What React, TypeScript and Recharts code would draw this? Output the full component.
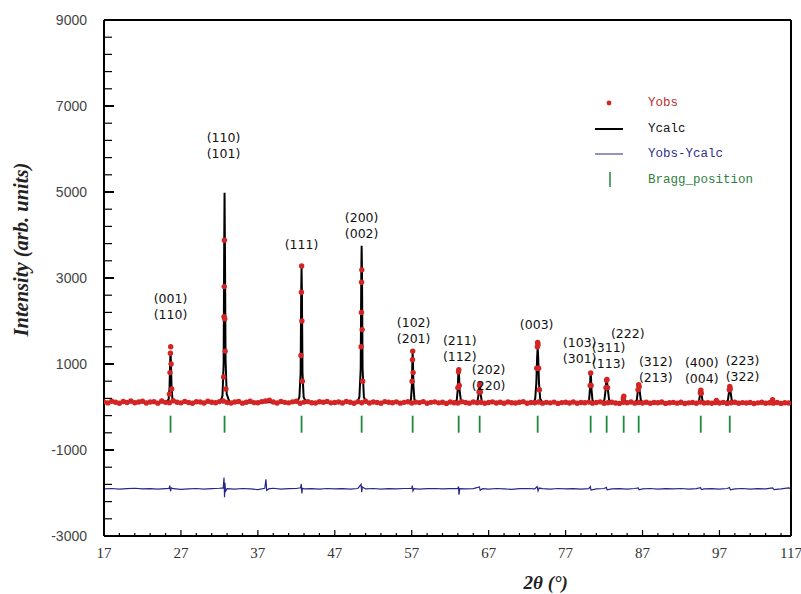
import React from 'react';
import { ComposedChart, Line, Scatter, XAxis, YAxis, Legend, Label } from 'recharts';

// observed background, one value every 0.5° from 17°
const obsBackground = [
  120, 95, 135, 110, 88, 128, 105, 140, 98, 118, 132, 92, 115, 125, 90, 138, 108, 100, 145, 112,
  96, 130, 104, 88, 122, 116, 92, 134, 110, 100, 126, 140, 105, 94, 118, 128, 90, 112, 136, 102,
  98, 124, 140, 160, 118, 92, 130, 108, 96, 120, 134, 88, 114, 126, 100, 92, 122, 110, 130, 96,
  104, 118, 92, 128, 110, 86, 124, 100, 132, 94, 116, 106, 88, 126, 112, 98, 120, 90, 108, 122,
  94, 114, 102, 126, 88, 108, 120, 96, 112, 84, 118, 100, 92, 124, 106, 90, 116, 98, 110, 86,
  104, 120, 92, 112, 86, 118, 100, 94, 110, 124, 88, 106, 98, 116, 90, 108, 96, 114, 84, 102,
  110, 92, 118, 86, 104, 98, 114, 90, 106, 120, 88, 100, 112, 94, 84, 108, 98, 116, 90, 104,
  92, 110, 86, 104, 98, 116, 84, 100, 108, 90, 112, 82, 96, 106, 88, 114, 92, 100, 86, 104,
  94, 108, 84, 98, 112, 88, 102, 92, 106, 82, 96, 110, 86, 100, 90, 104, 84, 98, 92,
];

// observed points on the peaks [2θ, intensity]
const obsPeaks: [number, number][] = [
  [25.5, 300], [25.58, 800], [25.63, 1250], [25.67, 1400], [25.72, 1000], [25.8, 420],
  [32.55, 700], [32.6, 2100], [32.63, 2800], [32.65, 3880], [32.7, 2050], [32.75, 1300], [32.85, 420],
  [42.6, 1200], [42.66, 2670], [42.69, 3280], [42.72, 2000], [42.78, 600],
  [50.42, 1400], [50.46, 2200], [50.48, 2900], [50.51, 3190], [50.56, 1800], [50.62, 600],
  [57.05, 600], [57.1, 1100], [57.13, 1300], [57.18, 800],
  [63.0, 450], [63.08, 820], [63.12, 870], [63.18, 500],
  [65.75, 350], [65.82, 500], [65.86, 540], [65.92, 350],
  [73.25, 900], [73.33, 1400], [73.37, 1500], [73.42, 1450], [73.5, 900], [73.6, 400],
  [80.2, 500], [80.26, 790], [80.32, 500],
  [82.25, 450], [82.32, 620], [82.38, 640], [82.45, 450],
  [84.5, 200], [84.57, 250],
  [86.42, 400], [86.5, 520], [86.56, 470],
  [94.52, 330], [94.58, 390], [94.64, 320],
  [96.6, 150],
  [98.28, 400], [98.34, 480], [98.4, 420],
  [103.9, 170],
];

// calculated profile [2θ, intensity]
const yCalc: [number, number][] = [
  [17, 118], [18, 116], [19, 114], [20, 113], [21, 112], [22, 112], [23, 111], [24, 111],
  [25.1, 112], [25.4, 180], [25.52, 450], [25.6, 1050], [25.65, 1300], [25.7, 1050], [25.78, 450], [25.9, 180], [26.2, 118],
  [27, 110], [28, 110], [29, 109], [30, 108], [31, 108],
  [32.1, 112], [32.4, 260], [32.55, 1000], [32.62, 3600], [32.67, 4980], [32.72, 3700], [32.8, 1100], [32.95, 300], [33.3, 120],
  [34, 108], [35, 107], [36, 107], [37, 106], [38, 112], [39, 108], [40, 106], [41, 105],
  [42.1, 108], [42.4, 230], [42.56, 800], [42.63, 2600], [42.68, 3250], [42.73, 2600], [42.8, 800], [42.95, 230], [43.3, 110],
  [44, 104], [45, 104], [46, 103], [47, 103], [48, 102], [49, 102],
  [49.9, 104], [50.2, 230], [50.37, 900], [50.44, 3000], [50.49, 3750], [50.54, 3000], [50.61, 900], [50.78, 230], [51.1, 104],
  [52, 101], [53, 101], [54, 100], [55, 100], [56, 100],
  [56.6, 102], [56.9, 170], [57.02, 500], [57.08, 1050], [57.12, 1280], [57.16, 1050], [57.22, 500], [57.35, 170], [57.7, 102],
  [58, 99], [59, 99], [60, 98], [61, 98], [62, 98],
  [62.6, 100], [62.85, 160], [62.98, 400], [63.05, 760], [63.1, 870], [63.15, 760], [63.22, 400], [63.38, 160], [63.7, 100],
  [64, 98], [65, 97],
  [65.3, 98], [65.55, 140], [65.7, 300], [65.78, 480], [65.83, 530], [65.88, 480], [65.96, 300], [66.1, 140], [66.4, 98],
  [67, 96], [68, 96], [69, 95], [70, 95], [71, 95], [72, 95],
  [72.8, 97], [73.05, 190], [73.2, 560], [73.3, 1150], [73.37, 1380], [73.44, 1150], [73.54, 560], [73.7, 190], [74.0, 98],
  [75, 94], [76, 94], [77, 93], [78, 93], [79, 93],
  [79.8, 94], [80.05, 150], [80.17, 420], [80.22, 700], [80.26, 800], [80.3, 700], [80.36, 420], [80.5, 150], [80.8, 94],
  [81.8, 94], [82.05, 170], [82.2, 400], [82.28, 580], [82.34, 620], [82.4, 580], [82.5, 400], [82.65, 170], [82.9, 93],
  [84.1, 92], [84.35, 140], [84.48, 230], [84.55, 255], [84.62, 230], [84.75, 140], [85.0, 92],
  [86.0, 92], [86.25, 160], [86.4, 380], [86.46, 480], [86.5, 505], [86.54, 480], [86.62, 380], [86.78, 160], [87.0, 91],
  [88, 90], [89, 90], [90, 89], [91, 89], [92, 89], [93, 88],
  [94.1, 88], [94.35, 150], [94.48, 300], [94.57, 375], [94.66, 300], [94.8, 150], [95.05, 88],
  [96.3, 87], [96.5, 120], [96.6, 155], [96.7, 120], [96.9, 87],
  [97.8, 87], [98.1, 160], [98.25, 360], [98.34, 460], [98.43, 360], [98.6, 160], [98.9, 87],
  [100, 86], [101, 86], [102, 85], [103, 85],
  [103.5, 85], [103.75, 130], [103.9, 165], [104.05, 130], [104.3, 85],
  [105, 84], [106, 84], [106.3, 84],
];

// difference curve Yobs - Ycalc (shifted) [2θ, intensity]
const yDiff: [number, number][] = [
  [17, -1905], [18, -1895], [19, -1910], [20, -1900], [21, -1890], [22, -1905], [23, -1898], [24, -1910], [25, -1900],
  [25.45, -1895], [25.55, -1830], [25.65, -1960], [25.75, -1880], [26, -1900], [27, -1915], [28, -1905], [29, -1895],
  [30, -1910], [31, -1900], [32, -1890], [32.5, -1880], [32.6, -1640], [32.67, -2100], [32.72, -1760], [32.8, -1960],
  [33, -1900], [34, -1910], [35, -1895], [36, -1905], [37, -1920], [37.9, -1890], [38.05, -1680], [38.15, -1940],
  [38.4, -1905], [39, -1890], [40, -1910], [41, -1900], [42, -1895], [42.55, -1880], [42.64, -1790], [42.72, -2010],
  [42.8, -1890], [43, -1905], [44, -1900], [45, -1910], [46, -1895], [47, -1905], [48, -1900], [49, -1910], [50, -1895],
  [50.42, -1800], [50.5, -1980], [50.58, -1860], [51, -1905], [52, -1895], [53, -1910], [54, -1900], [55, -1905],
  [56, -1895], [57, -1890], [57.08, -1830], [57.16, -1950], [57.3, -1900], [58, -1910], [59, -1900], [60, -1895],
  [61, -1905], [62, -1900], [63, -1895], [63.08, -1850], [63.14, -2040], [63.25, -1900], [64, -1905], [65, -1900],
  [65.8, -1860], [65.9, -1935], [66.2, -1900], [67, -1910], [68, -1895], [69, -1905], [70, -1915], [71, -1900],
  [72, -1895], [73, -1905], [73.3, -1850], [73.42, -1950], [73.55, -1885], [74, -1900], [75, -1910], [76, -1895],
  [77, -1905], [78, -1900], [79, -1910], [80, -1900], [80.22, -1850], [80.3, -1930], [81, -1905], [82, -1895],
  [82.3, -1870], [82.4, -1925], [83, -1905], [84, -1900], [85, -1910], [86, -1895], [86.45, -1880], [86.55, -1925],
  [87, -1905], [88, -1895], [89, -1910], [90, -1900], [91, -1905], [92, -1895], [93, -1910], [94, -1900],
  [94.55, -1875], [94.65, -1920], [95, -1905], [96, -1900], [97, -1910], [98, -1895], [98.3, -1875], [98.42, -1925],
  [99, -1905], [100, -1895], [101, -1910], [102, -1900], [103, -1905], [103.9, -1880], [104.1, -1920], [105, -1905],
  [106, -1880], [106.3, -1900],
];

const braggPositions = [25.65, 32.67, 42.68, 50.49, 57.12, 63.1, 65.83, 73.37, 80.26, 82.34, 84.55, 86.5, 94.57, 98.34];
const braggLevel = -400;

const hklLabels: { x: number; y: number; lines: string[] }[] = [
  { x: 25.65, y: 2160, lines: ['(001)', '(110)'] },
  { x: 32.54, y: 5900, lines: ['(110)', '(101)'] },
  { x: 42.68, y: 3790, lines: ['(111)'] },
  { x: 50.49, y: 4050, lines: ['(200)', '(002)'] },
  { x: 57.25, y: 1600, lines: ['(102)', '(201)'] },
  { x: 63.24, y: 1190, lines: ['(211)', '(112)'] },
  { x: 67.0, y: 510, lines: ['(202)', '(220)'] },
  { x: 73.24, y: 1930, lines: ['(003)'] },
  { x: 78.83, y: 1140, lines: ['(103)', '(301)'] },
  { x: 82.6, y: 1020, lines: ['(311)', '(113)'] },
  { x: 85.08, y: 1720, lines: ['(222)'] },
  { x: 88.72, y: 700, lines: ['(312)', '(213)'] },
  { x: 94.7, y: 675, lines: ['(400)', '(004)'] },
  { x: 100.0, y: 720, lines: ['(223)', '(322)'] },
];

const xMajorTicks = [17, 27, 37, 47, 57, 67, 77, 87, 97, 106.3];
const xTickLabels = ['17', '27', '37', '47', '57', '67', '77', '87', '97', '117'];
const yMajorTicks = [-3000, -1000, 1000, 3000, 5000, 7000, 9000];
const yTickLabels = ['-3000', '-1000', '1000', '3000', '5000', '7000', '9000'];

const xMinorTicks: number[] = [];
for (let v = 19; v < 106; v += 2) if (!xMajorTicks.includes(v)) xMinorTicks.push(v);
const xTicks = [...xMajorTicks, ...xMinorTicks].sort((a, b) => a - b);
const yTicks: number[] = [];
for (let v = -3000; v <= 9000; v += 400) yTicks.push(v);

const obsPoints = [
  ...obsBackground.map((y, i) => ({ x: 17 + i * 0.5, y })),
  ...obsPeaks.map(([x, y]) => ({ x, y })),
];
const calcPoints = yCalc.map(([x, y]) => ({ x, y }));
const diffPoints = yDiff.map(([x, y]) => ({ x, y }));
const braggPoints = braggPositions.map((x) => ({ x, y: braggLevel }));

const RED = '#d42424';
const NAVY = '#26268c';
const GREEN = '#1f8a3c';

const XTick = (props: any) => {
  const { x, y, payload } = props;
  const idx = xMajorTicks.indexOf(payload.value);
  return (
    <g>
      <line x1={x} x2={x} y1={y} y2={y - (idx >= 0 ? 6 : 3)} stroke="#000" strokeWidth={1.2} />
      {idx >= 0 && (
        <text x={x} y={y + 22} textAnchor="middle" fontFamily="Liberation Serif" fontSize={15} fill="#333">
          {xTickLabels[idx]}
        </text>
      )}
    </g>
  );
};

const YTick = (props: any) => {
  const { x, y, payload } = props;
  const idx = yMajorTicks.indexOf(payload.value);
  return (
    <g>
      <line x1={x} x2={x + (idx >= 0 ? 10 : 8)} y1={y} y2={y} stroke="#000" strokeWidth={idx >= 0 ? 2 : 1.2} />
      {idx >= 0 && (
        <text x={x - 17} y={y + 5} textAnchor="end" fontFamily="Liberation Sans" fontSize={14} fill="#444">
          {yTickLabels[idx]}
        </text>
      )}
    </g>
  );
};

const RightTick = (props: any) => {
  const { x, y, payload } = props;
  const major = yMajorTicks.includes(payload.value);
  return <line x1={x} x2={x - (major ? 8 : 6)} y1={y} y2={y} stroke="#000" strokeWidth={major ? 2 : 1.2} />;
};

const ObsDot = (props: any) => <circle cx={props.cx} cy={props.cy} r={2.7} fill={RED} />;

const BraggMark = (props: any) => (
  <line x1={props.cx} x2={props.cx} y1={props.cy - 8.5} y2={props.cy + 8.5} stroke={GREEN} strokeWidth={1.8} />
);

const HklLabel = (props: any) => {
  const { cx, cy, payload } = props;
  const lines: string[] = payload.lines;
  return (
    <g>
      {lines.map((t, i) => (
        <text
          key={t}
          x={cx}
          y={cy - (lines.length - 1 - i) * 16 + 5}
          textAnchor="middle"
          fontFamily="DejaVu Sans"
          fontSize={12.5}
          fill="#111"
        >
          {t}
        </text>
      ))}
    </g>
  );
};

const YTitle = (props: any) => {
  const { x, y, height } = props.viewBox;
  const cx = x - 82;
  const cy = y + height * 0.445;
  return (
    <text
      x={cx}
      y={cy}
      transform={`rotate(-90 ${cx} ${cy})`}
      textAnchor="middle"
      dominantBaseline="central"
      fontFamily="Liberation Serif"
      fontWeight="bold"
      fontStyle="italic"
      fontSize={20.5}
      fill="#222"
    >
      Intensity (arb. units)
    </text>
  );
};

const XTitle = (props: any) => {
  const { x, y, width } = props.viewBox;
  return (
    <text
      x={x + width * 0.643}
      y={y + 53}
      textAnchor="middle"
      fontFamily="Liberation Serif"
      fontWeight="bold"
      fontStyle="italic"
      fontSize={19}
      fill="#222"
    >
      2θ (°)
    </text>
  );
};

const legendItems = [
  { name: 'Yobs', color: '#b83030', kind: 'dot' },
  { name: 'Ycalc', color: '#111', kind: 'line' },
  { name: 'Yobs-Ycalc', color: '#30308a', kind: 'thin' },
  { name: 'Bragg_position', color: '#2f7f3f', kind: 'tick' },
];

const LegendBox = () => (
  <div style={{ fontFamily: 'Liberation Mono', fontSize: 12.5 }}>
    {legendItems.map((it) => (
      <div key={it.name} style={{ display: 'flex', alignItems: 'center', height: 25.7 }}>
        <svg width={50} height={20} style={{ marginRight: 10 }}>
          {it.kind === 'dot' && <circle cx={21} cy={10} r={2.4} fill={RED} />}
          {it.kind === 'line' && <line x1={7} x2={35} y1={10} y2={10} stroke="#000" strokeWidth={2} />}
          {it.kind === 'thin' && <line x1={7} x2={35} y1={10} y2={10} stroke={NAVY} strokeWidth={1} />}
          {it.kind === 'tick' && <line x1={22} x2={22} y1={2} y2={17} stroke={GREEN} strokeWidth={1.5} />}
        </svg>
        <span style={{ color: it.color }}>{it.name}</span>
      </div>
    ))}
  </div>
);

export default function App() {
  return (
    <div style={{ position: 'absolute', left: 0, top: 0, background: '#fff' }}>
      <ComposedChart width={801} height={594} margin={{ top: 19, right: 9, bottom: 57, left: 103 }}>
        <XAxis
          type="number"
          dataKey="x"
          domain={[17, 106.3]}
          allowDataOverflow
          ticks={xTicks}
          interval={0}
          height={1}
          tickSize={0}
          tickMargin={0}
          tickLine={false}
          axisLine={{ stroke: '#000', strokeWidth: 2 }}
          tick={(p: any) => <XTick {...p} />}
          label={<Label content={(p: any) => <XTitle {...p} />} />}
        />
        <XAxis
          xAxisId="top"
          orientation="top"
          type="number"
          dataKey="x"
          domain={[17, 106.3]}
          height={1}
          tick={false}
          tickLine={false}
          axisLine={{ stroke: '#000', strokeWidth: 2 }}
        />
        <YAxis
          type="number"
          dataKey="y"
          domain={[-3000, 9000]}
          allowDataOverflow
          ticks={yTicks}
          interval={0}
          width={1}
          tickSize={0}
          tickMargin={0}
          tickLine={false}
          axisLine={{ stroke: '#000', strokeWidth: 2 }}
          tick={(p: any) => <YTick {...p} />}
          label={<Label content={(p: any) => <YTitle {...p} />} />}
        />
        <YAxis
          yAxisId="right"
          orientation="right"
          type="number"
          domain={[-3000, 9000]}
          ticks={yTicks}
          interval={0}
          width={1}
          tickSize={0}
          tickMargin={0}
          tickLine={false}
          axisLine={{ stroke: '#000', strokeWidth: 2 }}
          tick={(p: any) => <RightTick {...p} />}
        />
        <Scatter name="Yobs" data={obsPoints} dataKey="y" shape={ObsDot} isAnimationActive={false} />
        <Line
          name="Ycalc"
          data={calcPoints}
          dataKey="y"
          type="linear"
          stroke="#000"
          strokeWidth={2}
          dot={false}
          isAnimationActive={false}
        />
        <Line
          name="Yobs-Ycalc"
          data={diffPoints}
          dataKey="y"
          type="linear"
          stroke={NAVY}
          strokeWidth={1.2}
          dot={false}
          isAnimationActive={false}
        />
        <Scatter name="Bragg_position" data={braggPoints} dataKey="y" shape={BraggMark} isAnimationActive={false} />
        <Scatter data={hklLabels} dataKey="y" shape={HklLabel} isAnimationActive={false} legendType="none" />
        <Legend
          layout="vertical"
          align="center"
          verticalAlign="middle"
          wrapperStyle={{ left: 588, top: 90, width: 200 }}
          content={() => <LegendBox />}
        />
      </ComposedChart>
    </div>
  );
}
